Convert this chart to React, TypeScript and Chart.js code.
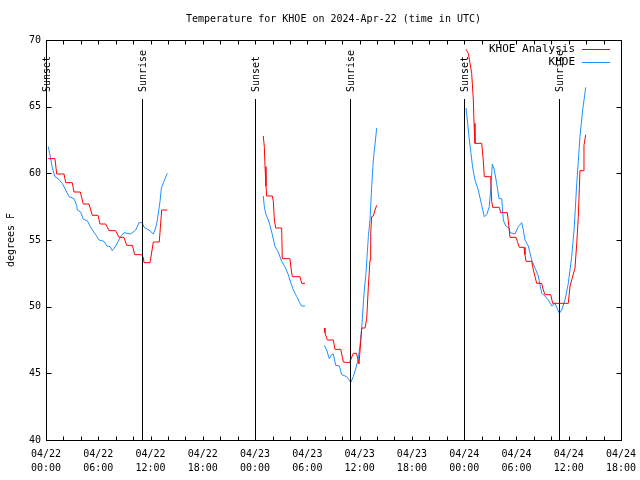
import React, { useEffect, useRef } from 'react';
import { Chart, registerables } from 'chart.js';
Chart.register(...registerables);

const TITLE = 'Temperature for KHOE on 2024-Apr-22 (time in UTC)';
const Y_TITLE = 'degrees F';
const SERIES_NAMES = ['KHOE Analysis', 'KHOE'];
const SERIES_COLORS = ['#ff0000', '#1e90ff'];

const X_DATES = ['04/22', '04/22', '04/22', '04/22', '04/23', '04/23', '04/23', '04/23', '04/24', '04/24', '04/24', '04/24'];
const X_TIMES = ['00:00', '06:00', '12:00', '18:00', '00:00', '06:00', '12:00', '18:00', '00:00', '06:00', '12:00', '18:00'];

const SUN_LABELS = ['Sunset', 'Sunrise', 'Sunset', 'Sunrise', 'Sunset', 'Sunrise'];
const SUN_HOURS = [0.05, 11.05, 24.03, 34.93, 48.02, 58.92];

// hours since 04/22 00:00 UTC ; null = gap in record
const ANALYSIS_HOURS = [
  0.26, 1.03, 1.23, 2.07, 2.26, 3.02, 3.21, 3.94, 4.28, 4.94, 5.31, 5.97, 6.2, 6.85, 7.23, 8.0, 8.38, 8.95, 9.26, 9.91,
  10.18, 10.94, 11.17, 11.25, 11.94, 12.32, 13.0, 13.28, 13.92,
  19,
  24.94, 25.06, 25.14, 25.25, 25.33, 25.98, 26.09, 26.21, 26.37, 27.05, 27.12, 28.0, 28.12, 28.27, 29.15, 29.35, 29.73,
  31,
  31.94, 32.02, 32.29, 32.98, 33.17, 33.83, 34.13, 34.84, 35.27, 35.64, 35.93, 36.24, 36.62, 36.81, 37.0, 37.19, 37.27,
  37.38, 37.57, 37.76, 37.96,
  43,
  48.21, 48.47, 48.67, 48.86, 49.05, 49.13, 49.24, 50.01, 50.19, 50.31, 51.04, 51.16, 51.27, 52.03, 52.19, 52.95, 53.07,
  53.26, 53.95, 54.1, 54.33, 54.87, 54.98, 55.1, 55.75, 55.94, 56.32, 56.9, 57.08, 57.28, 57.93, 58.16, 59.95, 60.15,
  60.72, 60.92, 61.1, 61.29, 61.67, 61.75, 61.95,
];
const ANALYSIS_TEMPS = [
  61.1, 61.1, 59.95, 59.95, 59.3, 59.3, 58.6, 58.6, 57.7, 57.7, 56.85, 56.85, 56.2, 56.2, 55.7, 55.7, 55.2, 55.2, 54.6, 54.6,
  53.9, 53.9, 53.7, 53.3, 53.3, 54.85, 54.85, 57.25, 57.25,
  null,
  62.8, 62.0, 60.5, 59.05, 58.3, 58.3, 57.9, 56.5, 55.9, 55.9, 53.6, 53.6, 52.9, 52.25, 52.25, 51.75, 51.75,
  null,
  48.4, 48.05, 47.5, 47.5, 46.8, 46.8, 45.85, 45.8, 46.5, 46.5, 45.7, 48.4, 48.4, 49.1, 51.5, 53.5, 55.5,
  56.75, 56.8, 57.25, 57.6,
  null,
  69.3, 69.0, 68.25, 67.5, 65.5, 63.75, 62.25, 62.25, 61.0, 59.75, 59.75, 57.9, 57.45, 57.45, 57.05, 57.05, 56.4,
  55.2, 55.2, 54.9, 54.45, 54.45, 53.9, 53.4, 53.4, 52.75, 51.75, 51.75, 51.25, 50.9, 50.9, 50.25, 50.25, 51.55,
  52.9, 54.75, 56.75, 60.2, 60.2, 62.1, 62.9,
];

const KHOE_HOURS = [
  0.26, 0.54, 0.72, 1.03, 1.49, 1.87, 2.26, 2.64, 3.21, 3.52, 3.59, 3.98, 4.28, 4.74, 5.13, 5.7, 6.08, 6.66, 6.97, 7.35,
  7.61, 8.0, 8.57, 8.95, 9.72, 10.3, 10.67, 11.05, 11.25, 11.82, 12.32, 12.59, 12.78, 13.09, 13.24, 13.54, 13.92,
  19,
  24.94, 25.06, 25.25, 25.52, 25.71, 25.98, 26.29, 26.66, 27.05, 27.43, 27.81, 28.12, 28.39, 28.78, 29.15, 29.35, 29.73,
  31,
  31.94, 32.22, 32.52, 32.79, 32.98, 33.25, 33.67, 33.94, 34.52, 34.89, 34.97, 35.27, 35.58, 35.85, 36.04, 36.24, 36.5,
  36.73, 37.0, 37.19, 37.38, 37.57, 37.96,
  43,
  48.21, 48.36, 48.59, 48.78, 48.98, 49.24, 49.62, 50.01, 50.31, 50.59, 50.88, 51.04, 51.23, 51.46, 51.73, 52.0, 52.31,
  52.49, 52.77, 53.15, 53.26, 53.83, 54.21, 54.6, 54.79, 54.98, 55.36, 55.75, 56.13, 56.51, 56.9, 57.28, 57.66, 58.05,
  58.43, 58.92, 59.19, 59.57, 59.95, 60.34, 60.64, 60.92, 61.1, 61.29, 61.6, 61.95,
];
const KHOE_TEMPS = [
  62.0, 61.1, 60.4, 59.75, 59.55, 59.25, 58.75, 58.25, 58.1, 57.6, 57.25, 57.1, 56.55, 56.45, 55.95, 55.4, 55.0, 54.9, 54.55, 54.5,
  54.2, 54.55, 55.25, 55.55, 55.45, 55.75, 56.3, 56.3, 55.95, 55.75, 55.45, 55.9, 56.5, 57.9, 58.9, 59.4, 60.0,
  null,
  58.3, 57.5, 56.9, 56.5, 56.1, 55.4, 54.5, 54.1, 53.4, 53.0, 52.4, 51.75, 51.25, 50.75, 50.25, 50.05, 50.05,
  null,
  47.1, 46.75, 46.1, 46.4, 46.45, 45.6, 45.55, 44.9, 44.75, 44.4, 44.3, 44.75, 45.4, 46.1, 47.1, 48.4, 51.0,
  52.5, 55.25, 56.5, 59.0, 61.0, 63.4,
  null,
  64.9, 64.0, 62.5, 61.5, 60.4, 59.5, 58.75, 57.6, 56.75, 56.9, 57.5, 58.75, 60.7, 60.25, 59.25, 58.1, 58.1,
  56.5, 56.05, 55.9, 55.55, 55.45, 56.0, 56.3, 55.75, 55.0, 54.55, 53.5, 52.9, 52.3, 51.0, 50.8, 50.5, 50.05,
  50.25, 49.5, 49.75, 50.5, 51.75, 53.75, 56.0, 59.25, 60.9, 62.75, 64.75, 66.45,
];

const X_MIN = 0;
const X_MAX = 66;
const Y_MIN = 40;
const Y_MAX = 70;

const FONT = '"DejaVu Sans Mono", "Liberation Mono", monospace';

const toPoints = (hs: number[], vs: (number | null)[]) => hs.map((h, i) => ({ x: h, y: vs[i] }));

const decor = {
  id: 'decor',
  afterDraw(chart: any) {
    const ctx = chart.ctx as CanvasRenderingContext2D;
    const a = chart.chartArea;
    const xs = chart.scales.x;
    const ys = chart.scales.y;
    const L = Math.round(a.left) + 0.5;
    const R = Math.round(a.right) + 0.5;
    const T = Math.round(a.top) + 0.5;
    const B = Math.round(a.bottom) + 0.5;
    const seg = (x1: number, y1: number, x2: number, y2: number) => {
      ctx.beginPath();
      ctx.moveTo(x1, y1);
      ctx.lineTo(x2, y2);
      ctx.stroke();
    };
    ctx.save();
    ctx.strokeStyle = '#000';
    ctx.lineWidth = 1;
    ctx.strokeRect(L, T, R - L, B - T);
    for (let h = X_MIN; h <= X_MAX; h += 2) {
      const px = Math.round(xs.getPixelForValue(h)) + 0.5;
      seg(px, B, px, B - 4);
      seg(px, T, px, T + 4);
    }
    for (let v = Y_MIN; v <= Y_MAX; v += 5) {
      const py = Math.round(ys.getPixelForValue(v)) + 0.5;
      seg(L, py, L + 5, py);
      seg(R, py, R - 5, py);
    }
    // sunrise / sunset markers
    ctx.fillStyle = '#000';
    ctx.font = `10px ${FONT}`;
    SUN_HOURS.forEach((h, i) => {
      const px = Math.round(xs.getPixelForValue(h)) + 0.5;
      seg(px, 99, px, B);
      ctx.save();
      ctx.translate(px + 1, 92);
      ctx.rotate(-Math.PI / 2);
      ctx.textAlign = 'left';
      ctx.textBaseline = 'middle';
      ctx.fillText(SUN_LABELS[i], 0, 0);
      ctx.restore();
    });
    // title
    ctx.textAlign = 'center';
    ctx.textBaseline = 'middle';
    ctx.fillText(TITLE, (a.left + a.right) / 2, 19.5);
    // y title
    ctx.save();
    ctx.translate(11, 240);
    ctx.rotate(-Math.PI / 2);
    ctx.fillText(Y_TITLE, 0, 0);
    ctx.restore();
    // legend
    ctx.font = `11px ${FONT}`;
    SERIES_NAMES.forEach((name, i) => {
      const y = 49.5 + i * 13;
      ctx.textAlign = 'right';
      ctx.fillStyle = '#000';
      ctx.fillText(name, 575, y);
      ctx.strokeStyle = SERIES_COLORS[i];
      seg(582, y, 610, y);
    });
    ctx.restore();
  },
};

export default function App() {
  const ref = useRef<HTMLCanvasElement>(null);
  useEffect(() => {
    document.body.style.margin = '0';
    Chart.defaults.font.family = FONT;
    Chart.defaults.font.size = 10;
    Chart.defaults.color = '#000';
    const chart = new Chart(ref.current as HTMLCanvasElement, {
      type: 'line',
      data: {
        datasets: [
          {
            label: SERIES_NAMES[0],
            data: toPoints(ANALYSIS_HOURS, ANALYSIS_TEMPS) as any,
            borderColor: SERIES_COLORS[0],
            borderWidth: 1,
            pointRadius: 0,
            spanGaps: false,
            tension: 0,
          },
          {
            label: SERIES_NAMES[1],
            data: toPoints(KHOE_HOURS, KHOE_TEMPS) as any,
            borderColor: SERIES_COLORS[1],
            borderWidth: 1,
            pointRadius: 0,
            spanGaps: false,
            tension: 0,
          },
        ],
      },
      options: {
        responsive: false,
        animation: false,
        devicePixelRatio: 1,
        layout: { padding: { top: 40, right: 19, left: 0, bottom: 0 } },
        plugins: {
          legend: { display: false },
          title: { display: false },
          tooltip: { enabled: false },
        },
        scales: {
          x: {
            type: 'linear',
            min: X_MIN,
            max: X_MAX,
            afterFit(s: any) {
              s.height = 40;
              s.paddingLeft = 0;
              s.paddingRight = 0;
            },
            grid: { display: false, drawTicks: false },
            border: { display: false },
            ticks: {
              stepSize: 6,
              autoSkip: false,
              maxRotation: 0,
              padding: 7,
              color: '#000',
              font: { family: FONT, size: 10, lineHeight: 1.4 },
              callback: (v: any) => {
                const i = Math.round(Number(v) / 6);
                return [X_DATES[i] ?? '', X_TIMES[i] ?? ''];
              },
            },
          },
          y: {
            min: Y_MIN,
            max: Y_MAX,
            afterFit(s: any) {
              s.width = 46;
              s.paddingTop = 0;
              s.paddingBottom = 0;
            },
            grid: { display: false, drawTicks: false },
            border: { display: false },
            ticks: { stepSize: 5, padding: 5, color: '#000', font: { family: FONT, size: 10 } },
          },
        },
      },
      plugins: [decor],
    });
    return () => chart.destroy();
  }, []);
  return <canvas ref={ref} width={640} height={480} style={{ display: 'block' }} />;
}
